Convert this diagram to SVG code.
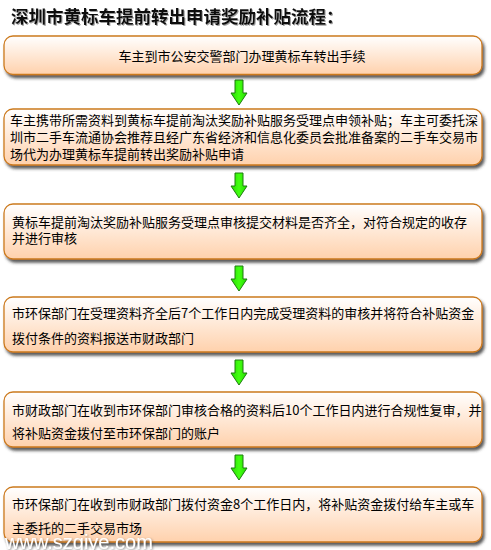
<svg xmlns="http://www.w3.org/2000/svg" width="491" height="550" viewBox="0 0 491 550">
<defs>
<linearGradient id="boxg" x1="0" y1="0" x2="0" y2="1">
<stop offset="0" stop-color="#ffffff"/>
<stop offset="1" stop-color="#ffd1ac"/>
</linearGradient>
<linearGradient id="arrg" x1="0" y1="0" x2="1" y2="0">
<stop offset="0" stop-color="#22dd00"/>
<stop offset="0.5" stop-color="#44ff11"/>
<stop offset="1" stop-color="#22dd00"/>
</linearGradient>
<filter id="sh" x="-5%" y="-20%" width="110%" height="150%">
<feDropShadow dx="2" dy="3" stdDeviation="1.4" flood-color="#333" flood-opacity="0.8"/>
</filter>
<filter id="tsh" x="-5%" y="-30%" width="110%" height="160%">
<feDropShadow dx="1" dy="1" stdDeviation="0.6" flood-color="#777" flood-opacity="0.7"/>
</filter>
<filter id="wsh" x="-5%" y="-30%" width="110%" height="160%">
<feDropShadow dx="1" dy="1" stdDeviation="0.8" flood-color="#444" flood-opacity="0.6"/>
</filter>
<path id="arrow" d="M235,0 h8 v13 h4 l-8,12 l-8,-12 h4 z"/>
</defs>
<style>
.box{fill:url(#boxg);stroke:#cc7a1e;stroke-width:1.3;filter:url(#sh)}
.t{font-family:"Noto Sans CJK SC","Liberation Sans",sans-serif;font-size:13px;fill:#000}
.title{font-family:"Noto Sans CJK SC","Liberation Sans",sans-serif;font-size:17.5px;font-weight:bold;fill:#111;filter:url(#tsh)}
.arr{fill:url(#arrg);stroke:#1f7a10;stroke-width:1}
.wm{font-family:"Liberation Sans",Arial,sans-serif;font-size:20px;fill:#ffffff;filter:url(#wsh)}
</style>
<rect width="491" height="550" fill="#ffffff"/>
<text class="title" x="11" y="23">深圳市黄标车提前转出申请奖励补贴流程：</text>

<g id="connectors">
<use href="#arrow" class="arr" transform="translate(0,80)"/>
<use href="#arrow" class="arr" transform="translate(0,173)"/>
<use href="#arrow" class="arr" transform="translate(0,266)"/>
<use href="#arrow" class="arr" transform="translate(0,360)"/>
<use href="#arrow" class="arr" transform="translate(0,455)"/>
</g>

<g id="node1">
<rect class="box" x="4" y="36" width="478" height="38.5" rx="9"/>
<text class="t" x="242" y="61" text-anchor="middle">车主到市公安交警部门办理黄标车转出手续</text>
</g>
<g id="node2">
<rect class="box" x="4" y="109" width="478" height="56" rx="9"/>
<text class="t"><tspan x="10" y="125">车主携带所需资料到黄标车提前淘汰奖励补贴服务受理点申领补贴；车主可委托深</tspan><tspan x="10" y="142">圳市二手车流通协会推荐且经广东省经济和信息化委员会批准备案的二手车交易市</tspan><tspan x="10" y="159">场代为办理黄标车提前转出奖励补贴申请</tspan></text>
</g>
<g id="node3">
<rect class="box" x="4" y="204" width="478" height="55" rx="9"/>
<text class="t"><tspan x="12" y="227">黄标车提前淘汰奖励补贴服务受理点审核提交材料是否齐全，对符合规定的收存</tspan><tspan x="12" y="243">并进行审核</tspan></text>
</g>
<g id="node4">
<rect class="box" x="4" y="297" width="478" height="55" rx="9"/>
<text class="t"><tspan x="12" y="318">市环保部门在受理资料齐全后7个工作日内完成受理资料的审核并将符合补贴资金</tspan><tspan x="12" y="343">拨付条件的资料报送市财政部门</tspan></text>
</g>
<g id="node5">
<rect class="box" x="4" y="392" width="478" height="55" rx="9"/>
<text class="t"><tspan x="12" y="415">市财政部门在收到市环保部门审核合格的资料后10个工作日内进行合规性复审，并</tspan><tspan x="12" y="438">将补贴资金拨付至市环保部门的账户</tspan></text>
</g>
<g id="node6">
<rect class="box" x="4" y="487" width="478" height="55" rx="9"/>
<text class="t"><tspan x="12" y="509">市环保部门在收到市财政部门拨付资金8个工作日内，将补贴资金拨付给车主或车</tspan><tspan x="12" y="533">主委托的二手交易市场</tspan></text>
</g>
<text class="wm" x="5" y="549">www.szqiye.com</text>
</svg>
